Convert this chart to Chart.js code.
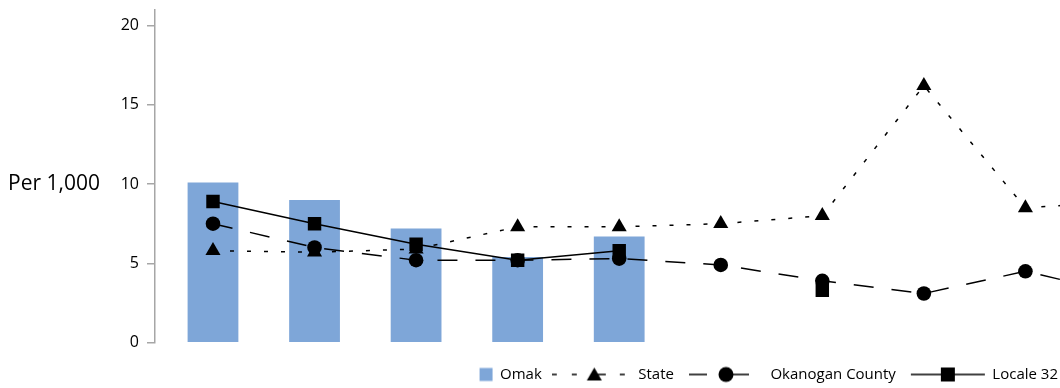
<!DOCTYPE html>
<html><head><meta charset="utf-8">
<script src="https://cdn.jsdelivr.net/npm/chart.js@4.4.1/dist/chart.umd.min.js"></script>
<style>
html,body{margin:0;padding:0;overflow:hidden;background:#fff;width:1060px;height:388px;}
#wrap{position:relative;width:1073px;height:392px;}
</style></head><body>
<div id="wrap"><canvas id="c"></canvas></div>
<script>
const categories = ['1','2','3','4','5','6','7','8','9','10'];
const omak = [10.1, 9.0, 7.2, 5.4, 6.7, null, null, null, null, null];
const state = [5.8, 5.7, 5.9, 7.3, 7.3, 7.5, 8.0, 16.2, 8.5, 8.9];
const okanogan = [7.5, 6.0, 5.2, 5.2, 5.3, 4.9, 3.9, 3.1, 4.5, 3.0];
const locale32 = [8.9, 7.5, 6.2, 5.2, 5.8, null, 3.3, null, null, null];
const yTicks = [0, 5, 10, 15, 20];
const yAxisLabel = 'Per 1,000';
const seriesNames = ['Omak', 'State', 'Okanogan County', 'Locale 32'];

Chart.defaults.font.family = "'Open Sans', sans-serif";

const toPts = arr => categories.map((c, i) => ({x: i, y: arr[i]}));

function sym(draw) {
  const c = document.createElement('canvas');
  c.width = 84; c.height = 18;
  const g = c.getContext('2d');
  g.fillStyle = '#000'; g.strokeStyle = '#000'; g.lineWidth = 1.5;
  draw(g, 42, 9);
  return c;
}
function seg(g, cx, cy, a, b) { g.beginPath(); g.moveTo(cx + a, cy); g.lineTo(cx + b, cy); g.stroke(); }
const legendSyms = [
  sym((g, cx, cy) => { g.fillStyle = '#7ea6d8'; g.fillRect(cx + 24, cy - 6.5, 13, 13); }),
  sym((g, cx, cy) => {
    seg(g, cx, cy, -42, -37); seg(g, cx, cy, -22, -17); seg(g, cx, cy, -2, 12); seg(g, cx, cy, 26, 31);
    g.beginPath(); g.moveTo(cx + 0.5, cy - 7); g.lineTo(cx + 8, cy + 6); g.lineTo(cx - 7, cy + 6); g.closePath(); g.fill();
  }),
  sym((g, cx, cy) => {
    seg(g, cx, cy, -37, -19); seg(g, cx, cy, 0, 23);
    g.beginPath(); g.arc(cx, cy, 7.5, 0, Math.PI * 2); g.fill();
  }),
  sym((g, cx, cy) => {
    seg(g, cx, cy, -37, 37);
    g.fillRect(cx - 7, cy - 7, 14, 14);
  })
];

const noPad = s => { s.paddingTop = 0; s.paddingBottom = 0; };

new Chart(document.getElementById('c'), {
  type: 'bar',
  data: {
    datasets: [
      { label: seriesNames[0], type: 'bar', data: toPts(omak), backgroundColor: '#7ea6d8', borderWidth: 0,
        categoryPercentage: 1, barPercentage: 0.5, order: 4 },
      { label: seriesNames[1], type: 'line', data: toPts(state), borderColor: '#000', borderWidth: 1.5,
        borderDash: [4, 13], pointStyle: 'triangle', pointRadius: 8.7, pointBackgroundColor: '#000',
        pointBorderWidth: 0, fill: false, tension: 0, order: 2 },
      { label: seriesNames[2], type: 'line', data: toPts(okanogan), borderColor: '#000', borderWidth: 1.5,
        borderDash: [20, 18], pointStyle: 'circle', pointRadius: 7.3, pointBackgroundColor: '#000',
        pointBorderWidth: 0, fill: false, tension: 0, order: 1 },
      { label: seriesNames[3], type: 'line', data: toPts(locale32), borderColor: '#000', borderWidth: 1.5,
        pointStyle: 'rect', pointRadius: 9.5, pointBackgroundColor: '#000', pointBorderWidth: 0,
        fill: false, tension: 0, spanGaps: false, order: 3 }
    ]
  },
  options: {
    responsive: true,
    maintainAspectRatio: false,
    animation: false,
    events: [],
    layout: { padding: { top: 6, left: 0, right: 0, bottom: 0 } },
    scales: {
      x: {
        type: 'linear', min: -0.571, max: 8.375, offset: false,
        ticks: { display: false },
        grid: { display: false, drawTicks: false },
        border: { display: false },
        afterFit: s => { s.height = 9.3; s.paddingLeft = 0; s.paddingRight = 0; }
      },
      y: {
        min: 0, max: 21, position: 'left', weight: 0,
        afterBuildTicks: s => { s.ticks = yTicks.map(v => ({ value: v })); },
        afterFit: s => { s.width = 55; noPad(s); },
        ticks: { font: { size: 16 }, color: '#000', padding: 8 },
        grid: { drawOnChartArea: false, drawTicks: true, tickLength: 8, color: '#a6a6a6', lineWidth: 1.5 },
        border: { color: '#a6a6a6', width: 1.5 }
      },
      y2: {
        type: 'linear', min: 0, max: 21, position: 'left', weight: 1,
        afterBuildTicks: s => { s.ticks = [{ value: 10 }]; },
        afterFit: s => { s.width = 100; noPad(s); },
        ticks: { callback: () => yAxisLabel, font: { size: 21 }, color: '#000', padding: 0 },
        grid: { display: false, drawTicks: false },
        border: { display: false }
      }
    },
    plugins: {
      tooltip: { enabled: false },
      legend: {
        position: 'bottom',
        align: 'end',
        labels: {
          usePointStyle: true,
          pointStyleWidth: 74,
          padding: 15,
          color: '#000',
          font: { size: 15 },
          generateLabels: chart => seriesNames.map((name, i) => ({
            text: name, pointStyle: legendSyms[i], fillStyle: '#000', strokeStyle: '#000',
            lineWidth: 0, hidden: false, datasetIndex: i, fontColor: '#000'
          }))
        }
      }
    }
  }
});
</script>
</body></html>
